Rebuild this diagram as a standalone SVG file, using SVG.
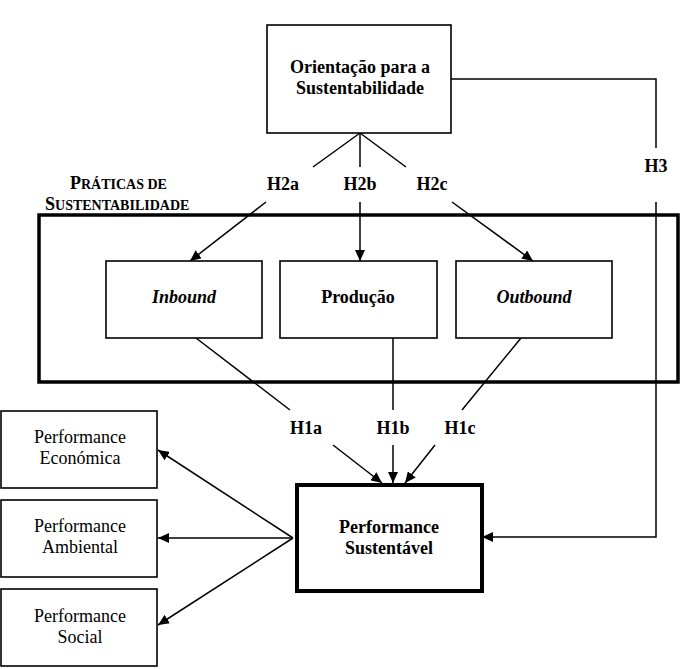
<svg xmlns="http://www.w3.org/2000/svg" width="681" height="669" viewBox="0 0 681 669">
<style>
text{font-family:"Liberation Serif","Times New Roman",serif;font-size:18px;fill:#000}
.b{font-weight:bold}
.bi{font-weight:bold;font-style:italic}
.box{fill:#fff;stroke:#000;stroke-width:1.6}
.thick{fill:none;stroke:#000;stroke-width:3.5}
.c{fill:none;stroke:#000;stroke-width:1.5}
.ca{fill:none;stroke:#000;stroke-width:1.5;marker-end:url(#ah)}
</style>
<defs>
<marker id="ah" markerUnits="userSpaceOnUse" markerWidth="12" markerHeight="10" refX="11" refY="5" orient="auto">
<path d="M0,0 L11,5 L0,10 Z" fill="#000"/>
</marker>
</defs>
<rect width="681" height="669" fill="#fff"/>
<g id="praticas">
<rect x="39" y="215" width="639" height="167" class="thick"/>
<text class="b" x="70" y="189"><tspan>P</tspan><tspan font-size="14">RÁTICAS DE</tspan></text>
<text class="b" x="45" y="210"><tspan>S</tspan><tspan font-size="14">USTENTABILIDADE</tspan></text>
</g>
<g id="connectors">
<polyline class="c" points="451,79 656,79 656,148"/>
<polyline class="ca" points="656,202 656,537 482,537"/>
<line class="c" x1="360" y1="133" x2="313" y2="167"/>
<line class="c" x1="360" y1="133" x2="360" y2="167"/>
<line class="c" x1="360" y1="133" x2="406" y2="167"/>
<line class="ca" x1="266" y1="202" x2="190" y2="261"/>
<line class="ca" x1="360" y1="202" x2="360" y2="261"/>
<line class="ca" x1="452" y1="202" x2="533" y2="261"/>
<line class="c" x1="196" y1="338" x2="290" y2="410"/>
<line class="c" x1="393" y1="338" x2="393" y2="410"/>
<line class="c" x1="521" y1="338" x2="462" y2="410"/>
<line class="ca" x1="333" y1="445" x2="382" y2="483"/>
<line class="ca" x1="393" y1="445" x2="393" y2="483"/>
<line class="ca" x1="435" y1="445" x2="405" y2="483"/>
<line class="ca" x1="293" y1="538" x2="158" y2="450"/>
<line class="ca" x1="293" y1="538" x2="158" y2="538"/>
<line class="ca" x1="293" y1="538" x2="158" y2="625"/>
</g>
<g id="labels" class="b" text-anchor="middle">
<text class="b" x="283" y="190">H2a</text>
<text class="b" x="360" y="190">H2b</text>
<text class="b" x="432" y="190">H2c</text>
<text class="b" x="656" y="172">H3</text>
<text class="b" x="306" y="434">H1a</text>
<text class="b" x="393" y="434">H1b</text>
<text class="b" x="460" y="434">H1c</text>
</g>
<g id="orientacao">
<rect x="267" y="25" width="184" height="108" class="box"/>
<text class="b" x="360" y="73" text-anchor="middle">Orientação para a</text>
<text class="b" x="360" y="94" text-anchor="middle">Sustentabilidade</text>
</g>
<g id="inbound">
<rect x="106" y="261" width="156" height="77" class="box"/>
<text class="bi" x="184" y="303" text-anchor="middle">Inbound</text>
</g>
<g id="producao">
<rect x="280" y="261" width="157" height="77" class="box"/>
<text class="b" x="358" y="303" text-anchor="middle">Produção</text>
</g>
<g id="outbound">
<rect x="456" y="261" width="156" height="77" class="box"/>
<text class="bi" x="534" y="303" text-anchor="middle">Outbound</text>
</g>
<g id="sustentavel">
<rect x="297" y="485" width="185" height="106" fill="#fff" stroke="#000" stroke-width="4"/>
<text class="b" x="389" y="533" text-anchor="middle">Performance</text>
<text class="b" x="389" y="554" text-anchor="middle">Sustentável</text>
</g>
<g id="economica">
<rect x="1" y="411" width="156" height="77" class="box"/>
<text x="80" y="443" text-anchor="middle">Performance</text>
<text x="80" y="464" text-anchor="middle">Económica</text>
</g>
<g id="ambiental">
<rect x="1" y="500" width="156" height="77" class="box"/>
<text x="80" y="532" text-anchor="middle">Performance</text>
<text x="80" y="553" text-anchor="middle">Ambiental</text>
</g>
<g id="social">
<rect x="1" y="589" width="156" height="77" class="box"/>
<text x="80" y="622" text-anchor="middle">Performance</text>
<text x="80" y="643" text-anchor="middle">Social</text>
</g>
</svg>
